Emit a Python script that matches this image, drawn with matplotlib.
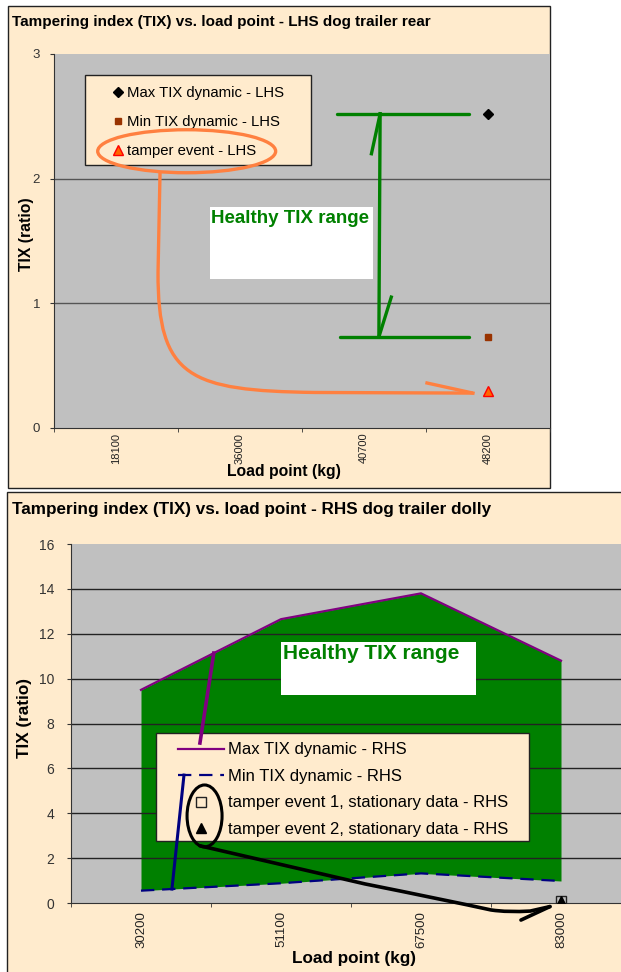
"""
Tampering index (TIX) vs. load point - two stacked Excel-style panels.
"""
import numpy as np
import matplotlib.pyplot as plt
from matplotlib.patches import Rectangle, Ellipse, PathPatch
from matplotlib.path import Path

plt.rcParams['font.family'] = ['Liberation Sans', 'DejaVu Sans']

# ── Data ──────────────────────────────────────────────────────────────────────
top_categories = ['18100', '36000', '40700', '48200']
top_max_tix    = [np.nan, np.nan, np.nan, 2.52]
top_min_tix    = [np.nan, np.nan, np.nan, 0.73]
top_tamper     = [np.nan, np.nan, np.nan, 0.30]
top_yticks     = [0, 1, 2, 3]

bot_categories = ['30200', '51100', '67500', '83000']
bot_max_tix    = [9.5, 12.65, 13.8, 10.8]
bot_min_tix    = [0.55, 0.88, 1.32, 0.98]
bot_tamper1    = [np.nan, np.nan, np.nan, 0.1]
bot_tamper2    = [np.nan, np.nan, np.nan, 0.1]
bot_yticks     = [0, 2, 4, 6, 8, 10, 12, 14, 16]

CREAM = '#FFEBCD'
GRAY  = '#C0C0C0'
GREEN = '#008000'
ORANGE = '#FF8040'

W, H = 621, 972
fig = plt.figure(figsize=(W / 100, H / 100), dpi=100)


def fig_box(x0, y0, x1, y1):
    """pixel box (top-left origin) -> figure fraction rect"""
    return [x0 / W, 1 - y1 / H, (x1 - x0) / W, (y1 - y0) / H]


# panel backgrounds
for (x0, y0, x1, y1) in [(8, 6, 550, 488), (7, 492, 650, 990)]:
    b = fig_box(x0, y0, x1, y1)
    fig.add_artist(Rectangle((b[0], b[1]), b[2], b[3], transform=fig.transFigure,
                             fc=CREAM, ec='#222222', lw=1, zorder=-2))


def style_axes(ax, cats, yticks, tick_size, xtick_size, xpad, ypad, grid_color):
    n = len(cats)
    ax.set_facecolor(GRAY)
    ax.set_xlim(-0.5, n - 0.5)
    ax.set_ylim(yticks[0], yticks[-1])
    ax.set_xticks(np.arange(n))
    ax.set_xticklabels(cats, rotation=90, fontsize=xtick_size, color='#222222')
    ax.set_xticks(np.arange(n + 1) - 0.5, minor=True)
    ax.tick_params(axis='x', which='major', length=0, pad=xpad)
    ax.tick_params(axis='x', which='minor', length=3, color='#333333')
    ax.set_yticks(yticks)
    ax.tick_params(axis='y', length=3, pad=ypad, labelsize=tick_size,
                   labelcolor='#333333', color='#333333')
    for t in yticks[1:-1]:
        ax.axhline(t, color=grid_color, lw=1, zorder=1.5)
    for s in ['top', 'right']:
        ax.spines[s].set_visible(False)
    for s in ['left', 'bottom']:
        ax.spines[s].set_color('#333333')


# ── Top panel: LHS dog trailer rear ──────────────────────────────────────────
ax1 = fig.add_axes(fig_box(54, 54, 550, 428))
style_axes(ax1, top_categories, top_yticks, 9.5, 8, 3.5, 7, '#555555')
x1 = np.arange(len(top_categories))

ax1.plot(x1, top_max_tix, 'D', color='black', ms=5, label='Max TIX dynamic - LHS', zorder=3)
ax1.plot(x1, top_min_tix, 's', color='#993300', ms=4.5, label='Min TIX dynamic - LHS', zorder=3)
ax1.plot(x1, top_tamper, '^', mfc='#FF6600', mec='#FF0000', ms=6.5,
         label='tamper event - LHS', zorder=3)

ax1.add_patch(Rectangle((0.0625, 0.703), 0.456, 0.2406, transform=ax1.transAxes,
                        fc=CREAM, ec='#222222', lw=1, zorder=4))
ax1.legend(loc='upper left', bbox_to_anchor=(0.117, 0.915), frameon=False,
           fontsize=10.7, borderpad=0, handlelength=0.8, handletextpad=0.2,
           labelspacing=1.03, borderaxespad=0).set_zorder(5)

# "Healthy TIX range" box
ax1.add_patch(Rectangle((0.758, 1.195), 1.315, 0.578, fc='white', ec='none', zorder=3))
ax1.text(0.77, 1.684, 'Healthy TIX range', color=GREEN, fontsize=13.5,
         fontweight='bold', va='center', zorder=4)

# green bracket between min and max
ymax, ymin = top_max_tix[3], top_min_tix[3]
ax1.plot([1.78, 2.85], [ymax, ymax], color=GREEN, lw=2.4, solid_capstyle='round', zorder=6)
ax1.plot([1.81, 2.85], [ymin, ymin], color=GREEN, lw=2.4, solid_capstyle='round', zorder=6)
ax1.plot([2.13, 2.12], [ymax, ymin], color=GREEN, lw=2.4, zorder=6)
ax1.plot([2.06, 2.13], [2.20, ymax], color=GREEN, lw=2.4, zorder=6)
ax1.plot([2.22, 2.12], [1.05, ymin], color=GREEN, lw=2.4, zorder=6)

# orange ellipse + curved arrow from legend to tamper point
ax1.add_patch(Ellipse((0.57, 2.22), 1.435, 0.345, fc='none', ec=ORANGE, lw=2.4, zorder=6))
tip = (2.879, top_tamper[3] - 0.02)
orange_path = Path([(0.355, 2.045), (0.339, 1.25),
                    (0.335, 0.40), (0.60, 0.30), (1.60, 0.285),
                    tip],
                   [Path.MOVETO, Path.LINETO,
                    Path.CURVE4, Path.CURVE4, Path.CURVE4,
                    Path.LINETO])
ax1.add_patch(PathPatch(orange_path, fc='none', ec=ORANGE, lw=2.4, zorder=6))
ax1.plot([2.508, tip[0]], [0.361, tip[1]], color=ORANGE, lw=2.4, zorder=6)

ax1.set_xlabel('Load point (kg)', fontsize=11.3, fontweight='bold')
ax1.xaxis.set_label_coords(0.464, -0.096)
ax1.set_ylabel('TIX (ratio)', fontsize=11.3, fontweight='bold')
ax1.yaxis.set_label_coords(-0.0403, 0.519)
fig.text(12 / W, 1 - 26 / H, 'Tampering index (TIX) vs. load point - LHS dog trailer rear',
         fontsize=11, fontweight='bold', va='baseline')

# ── Bottom panel: RHS dog trailer dolly ──────────────────────────────────────
ax2 = fig.add_axes(fig_box(71, 544, 631, 903))
style_axes(ax2, bot_categories, bot_yticks, 10, 9.5, 5.8, 9, '#222222')
x2 = np.arange(len(bot_categories))

ax2.fill_between(x2, bot_min_tix, bot_max_tix, color=GREEN, lw=0, zorder=1)
ax2.plot(x2, bot_max_tix, color='#800080', lw=1.6, label='Max TIX dynamic - RHS', zorder=2)
ax2.plot(x2, bot_min_tix, color='#000080', lw=1.6, dashes=(6, 3.5),
         label='Min TIX dynamic - RHS', zorder=2)
ax2.plot(x2, bot_tamper1, 's', mfc='none', mec='#222222', ms=7.5,
         label='tamper event 1, stationary data - RHS', zorder=3)
ax2.plot(x2, bot_tamper2, '^', color='black', ms=7,
         label='tamper event 2, stationary data - RHS', zorder=3)

ax2.add_patch(Rectangle((0.152, 0.1727), 0.666, 0.3008, transform=ax2.transAxes,
                        fc=CREAM, ec='#222222', lw=1, zorder=4))
ax2.legend(loc='upper left', bbox_to_anchor=(0.191, 0.4474), frameon=False,
           fontsize=12, borderpad=0, handlelength=2.75, handletextpad=0.24,
           labelspacing=0.69, borderaxespad=0).set_zorder(5)

ax2.add_patch(Rectangle((1.0, 9.27), 1.39, 2.36, fc='white', ec='none', zorder=3))
ax2.text(1.014, 11.1, 'Healthy TIX range', color=GREEN, fontsize=15,
         fontweight='bold', va='center', zorder=4)

# hand-drawn pointers from legend to the lines
ax2.plot([0.421, 0.52], [7.13, np.interp(0.52, x2, bot_max_tix)],
         color='#800080', lw=2.6, zorder=6)
ax2.plot([0.221, 0.307], [np.interp(0.221, x2, bot_min_tix), 5.70],
         color='#000080', lw=2.2, zorder=6)
ax2.add_patch(Ellipse((0.454, 3.88), 0.25, 2.76, fc='none', ec='black', lw=2.2, zorder=6))
black_path = Path([(0.421, 2.55), (1.6, 0.85), (2.2, 0.1), (2.5, -0.31),
                   (2.62, -0.42), (2.78, -0.36), (2.921, -0.16)],
                  [Path.MOVETO, Path.LINETO, Path.CURVE3, Path.CURVE3,
                   Path.CURVE3, Path.CURVE3, Path.LINETO])
ax2.add_patch(PathPatch(black_path, fc='none', ec='black', lw=2.6, zorder=6,
                        capstyle='round', clip_on=False))
ax2.plot([2.714, 2.921], [-0.76, -0.16], color='black', lw=2.6, zorder=6,
         solid_capstyle='round', clip_on=False)

ax2.set_xlabel('Load point (kg)', fontsize=12.3, fontweight='bold')
ax2.xaxis.set_label_coords(0.506, -0.133)
ax2.set_ylabel('TIX (ratio)', fontsize=12.3, fontweight='bold')
ax2.yaxis.set_label_coords(-0.0696, 0.515)
fig.text(12 / W, 1 - 514 / H, 'Tampering index (TIX) vs. load point - RHS dog trailer dolly',
         fontsize=12.3, fontweight='bold', va='baseline')

plt.savefig('out.png', dpi=100)
